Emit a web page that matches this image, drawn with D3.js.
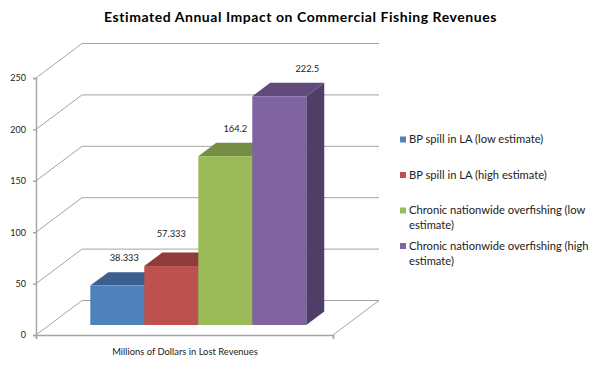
<!DOCTYPE html>
<html>
<head>
<meta charset="utf-8">
<script src="https://cdn.jsdelivr.net/npm/d3@7"></script>
<style>
  body { margin: 0; background: #fff; }
  text { font-family: Lato, "Noto Sans", sans-serif; fill: #222; }
</style>
</head>
<body>
<svg id="chart" width="600" height="372"></svg>
<script>
// values
const categories = [
    'BP spill in LA (low estimate)',
    'BP spill in LA (high estimate)',
    'Chronic nationwide overfishing (low estimate)',
    'Chronic nationwide overfishing (high estimate)'
];
const values = [38.333, 57.333, 164.2, 222.5];
const valueLabels = ['38.333', '57.333', '164.2', '222.5'];
const yTicks = [0, 50, 100, 150, 200, 250];
const frontColors = ['#4f81bd', '#bd514d', '#9bbb59', '#8064a2'];
const topColors = ['#3b5f8f', '#8e3b39', '#758d44', '#604b7b'];
const sideColors = ['#2f4c72', '#712f2d', '#5d7036', '#4f3f68'];
const title = 'Estimated Annual Impact on Commercial Fishing Revenues';
const xTitle = 'Millions of Dollars in Lost Revenues';

let svg = d3.select('#chart');

// front plane of the box
let yScale = d3.scaleLinear().domain([0, 250]).range([335, 78]);
let floorRight = 333;
let AXIS_X = 36;

// how far a point moves going back through the box (0 front, 1 back wall)
let depthX = d3.scaleLinear().domain([0, 1]).range([0, 46]);
let depthY = d3.scaleLinear().domain([0, 1]).range([0, -34.5]);

let xScale = d3.scaleBand().domain(d3.range(values.length)).range([90.3, 306.3]);
let line = d3.line();

// gridlines: up the side wall then along the back wall
let gridColor = '#a3a3a3';
svg.append('g').selectAll('path')
    .data(yTicks)
    .join('path')
    .attr('fill', 'none')
    .attr('stroke', gridColor)
    .attr('stroke-width', 1)
    .attr('d', d => line([
        [AXIS_X, yScale(d)],
        [AXIS_X + depthX(1), yScale(d) + depthY(1)],
        [floorRight + depthX(1), yScale(d) + depthY(1)]
    ]));

// right edge of the floor
svg.append('path')
    .attr('fill', 'none')
    .attr('stroke', gridColor)
    .attr('d', line([
        [floorRight, yScale(0)],
        [floorRight + depthX(1), yScale(0) + depthY(1)]
    ]));

// Y axis
let yAxis = svg.append('g')
    .attr('transform', `translate(${AXIS_X},0)`)
    .call(d3.axisLeft(yScale).tickValues(yTicks).tickSize(3).tickPadding(7));
yAxis.selectAll('path, line').attr('stroke', '#a3a3a3').attr('stroke-width', 1.4);
yAxis.selectAll('text').style('font-size', '9px').style('font-family', 'Lato, sans-serif').attr('fill', '#222');

// X axis
let xAxisScale = d3.scaleLinear().domain([0, 1]).range([AXIS_X, floorRight]);
let xAxis = svg.append('g')
    .attr('transform', `translate(0,${yScale(0)})`)
    .call(d3.axisBottom(xAxisScale).tickValues([0, 1]).tickSize(4).tickFormat(''));
xAxis.selectAll('path, line').attr('stroke', '#a3a3a3').attr('stroke-width', 1.4);

// bars, left to right so each one covers the side of the last
let barFront = 0.29;   // bars stand this far back from the front edge
let barBack = 0.68;
let bars = svg.append('g').selectAll('g')
    .data(values)
    .join('g');

function barX(i, extra) { return xScale(i) + extra; }

bars.append('path')
    .attr('fill', (d, i) => sideColors[i])
    .attr('d', (d, i) => {
        let r = barX(i, xScale.bandwidth());
        let dx = depthX(barBack - barFront);
        return line([
            [r, yScale(d) + depthY(barFront)],
            [r + dx, yScale(d) + depthY(barBack)],
            [r + dx, yScale(0) + depthY(barBack)],
            [r, yScale(0) + depthY(barFront)]
        ]) + 'Z';
    });

bars.append('path')
    .attr('fill', (d, i) => topColors[i])
    .attr('d', (d, i) => {
        let l = barX(i, 0);
        let r = barX(i, xScale.bandwidth());
        let dx = depthX(barBack - barFront);
        return line([
            [l, yScale(d) + depthY(barFront)],
            [l + dx, yScale(d) + depthY(barBack)],
            [r + dx, yScale(d) + depthY(barBack)],
            [r, yScale(d) + depthY(barFront)]
        ]) + 'Z';
    });

bars.append('rect')
    .attr('x', (d, i) => xScale(i))
    .attr('y', d => yScale(d) + depthY(barFront))
    .attr('width', xScale.bandwidth())
    .attr('height', d => yScale(0) - yScale(d))
    .attr('fill', (d, i) => frontColors[i]);

// value labels above the bars, they were moved by hand in the original
let labelNudgeX = [7, 0, 10, 28];
let labelNudgeY = [-11, -16, -11, -11];
svg.append('g').selectAll('text')
    .data(values)
    .join('text')
    .attr('x', (d, i) => xScale(i) + xScale.bandwidth() / 2 + labelNudgeX[i])
    .attr('y', (d, i) => yScale(d) + depthY(barBack) + labelNudgeY[i])
    .attr('text-anchor', 'middle')
    .style('font-size', '9.3px')
    .text((d, i) => valueLabels[i]);

// title
svg.append('text')
    .attr('x', 300.5)
    .attr('y', 21.5)
    .attr('text-anchor', 'middle')
    .style('font-size', '14px')
    .style('font-weight', 'bold')
    .style('letter-spacing', '0.55px')
    .style('fill', '#000')
    .text(title);

svg.append('text')
    .attr('x', 185)
    .attr('y', 355)
    .attr('text-anchor', 'middle')
    .style('font-size', '9.4px')
    .text(xTitle);

// legend
let legendY = d3.scalePoint().domain(d3.range(categories.length)).range([139.5, 246]);
let legendRows = svg.append('g').selectAll('g')
    .data(categories)
    .join('g')
    .attr('transform', (d, i) => `translate(400,${legendY(i)})`);

legendRows.append('rect')
    .attr('y', -3)
    .attr('width', 6)
    .attr('height', 6)
    .attr('fill', (d, i) => frontColors[i]);

// wrap long legend names onto a second line
legendRows.append('text')
    .attr('y', 3.5)
    .style('font-size', '11.2px')
    .each(function(d) {
        let el = d3.select(this);
        let words = d.split(' ');
        let tspan = el.append('tspan').attr('x', 9);
        let current = [];
        words.forEach(w => {
            current.push(w);
            tspan.text(current.join(' '));
            if (tspan.node().getComputedTextLength() > 190) {
                current.pop();
                tspan.text(current.join(' '));
                current = [w];
                tspan = el.append('tspan').attr('x', 9).attr('dy', 15).text(w);
            }
        });
    });
</script>
</body>
</html>
